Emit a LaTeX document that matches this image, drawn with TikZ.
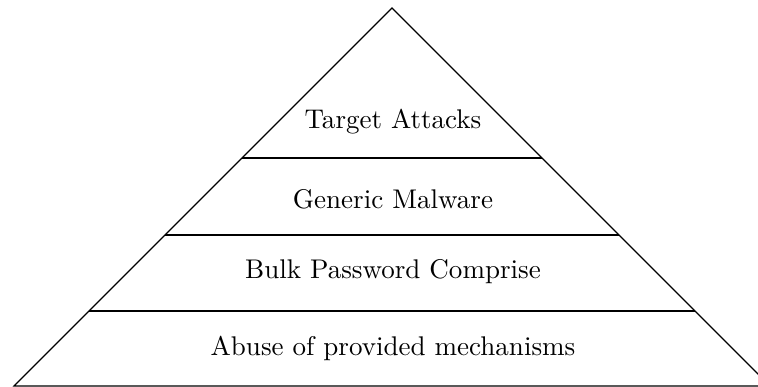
\documentclass[tikz,border=0pt]{standalone}
\begin{document}
\begin{tikzpicture}[x=0.37pt,y=-0.37pt]
   \useasboundingbox (0,0) rectangle (758,387);
   \clip (0,0) rectangle (758,387);
   \coordinate (apex) at (392,8);
   \coordinate (baseleft) at (14,386);
   \coordinate (baseright) at (770,386);
   \draw (baseleft) -- (apex) -- (baseright) -- cycle;
   \draw (242,158) -- (542,158) (165,235) -- (619,235) (89,311) -- (695,311);
   \node (target) at (393,122) {Target Attacks};
   \node (malware) at (393,199) {Generic Malware};
   \node (password) at (393,272) {Bulk Password Comprise};
   \node (abuse) at (393,348) {Abuse of provided mechanisms};
\end{tikzpicture}
\end{document}
